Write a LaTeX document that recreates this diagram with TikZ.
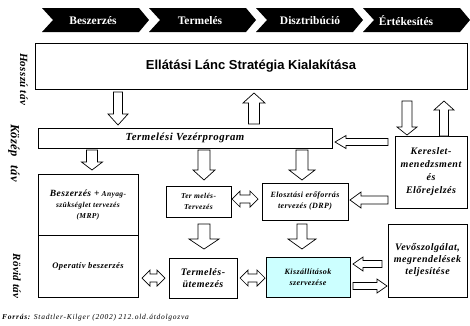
\documentclass[tikz,border=0pt]{standalone}
\usepackage{fontspec}
\setmainfont{Liberation Serif}
\newfontfamily\headsans{Liberation Sans}
\newfontfamily\tightserif[LetterSpace=3]{Liberation Serif}
\newfontfamily\wideserif[LetterSpace=5]{Liberation Serif}
\newfontfamily\widerserif[LetterSpace=10]{Liberation Serif}
\usetikzlibrary{calc}

\tikzset{
  box/.style={draw, line width=0.8pt, fill=white, inner sep=0pt, outer sep=0pt, align=center},
  % rectangle given by its corners x1,y1,x2,y2
  area/.style n args={4}{minimum width={(#3-#1)*1pt}, minimum height={(#4-#2)*1pt},
    at={({(#1+#3)/2},{(#2+#4)/2})}},
  blk/.style={draw, line width=0.7pt, fill=white, line join=miter},
  chevtext/.style={text=white, font=\bfseries\fontsize{11.5}{12}\selectfont, inner sep=0pt},
  bi/.style 2 args={font=\wideserif\bfseries\itshape\fontsize{#1}{#2}\selectfont},
  side/.style={font=\tightserif\bfseries\itshape\fontsize{#1}{#1}\selectfont, rotate=-90, inner sep=0pt},
  % block-arrow geometry: gaps at both ends, shaft/head half widths, head length
  ga/.store in=\baGapA, gb/.store in=\baGapB,
  sw/.store in=\baSw, hw/.store in=\baHw, hl/.store in=\baHl,
  ga=3pt, gb=3pt, sw=4.5pt, hw=10pt, hl=10pt,
}

% hollow block arrow from #2 to #3
\newcommand\barrow[3][]{%
  \begin{scope}[#1]
    \coordinate (bA) at ($(#2)!\baGapA!(#3)$);
    \coordinate (bB) at ($(#3)!\baGapB!(#2)$);
    \draw[blk] ($(bA)!\baSw!90:(bB)$)
      -- ($(bB)!\baHl!(bA)!\baSw!-90:(bA)$)
      -- ($(bB)!\baHl!(bA)!\baHw!-90:(bA)$)
      -- (bB)
      -- ($(bB)!\baHl!(bA)!\baHw!90:(bA)$)
      -- ($(bB)!\baHl!(bA)!\baSw!90:(bA)$)
      -- ($(bA)!\baSw!-90:(bB)$) -- cycle;
  \end{scope}}

% hollow double-headed block arrow between #2 and #3
\newcommand\dbarrow[3][]{%
  \begin{scope}[#1]
    \coordinate (bA) at ($(#2)!\baGapA!(#3)$);
    \coordinate (bB) at ($(#3)!\baGapB!(#2)$);
    \draw[blk] (bA)
      -- ($(bA)!\baHl!(bB)!\baHw!90:(bB)$)
      -- ($(bA)!\baHl!(bB)!\baSw!90:(bB)$)
      -- ($(bB)!\baHl!(bA)!\baSw!-90:(bA)$)
      -- ($(bB)!\baHl!(bA)!\baHw!-90:(bA)$)
      -- (bB)
      -- ($(bB)!\baHl!(bA)!\baHw!90:(bA)$)
      -- ($(bB)!\baHl!(bA)!\baSw!90:(bA)$)
      -- ($(bA)!\baHl!(bB)!\baSw!-90:(bB)$)
      -- ($(bA)!\baHl!(bB)!\baHw!-90:(bB)$) -- cycle;
  \end{scope}}

\begin{document}
\begin{tikzpicture}[x=1pt, y=-1pt]
\useasboundingbox (0,0) rectangle (470,325);

% process chevrons
\foreach \s/\t/\c [count=\i] in {42/Beszerzés/93, 149/Termelés/200, 256/Disztribúció/310, 363/Értékesítés/406}{
  \fill (\s,8) -- (\s+97,8) -- (\s+107,20) -- (\s+97,32) -- (\s,32) -- (\s+11,20) -- cycle;
  \node[chevtext] (chev\i) at (\c,20.5) {\t};
}

% horizon labels
\node[side=11] (lhossz) at (24,79) {Hosszú táv};
\node[side=12.5] (lkozep) at (14,153) {Közép\hspace{9pt}táv};
\node[side=11] (lrovid) at (17,276) {Rövid táv};

% planning boxes
\node[box, area={35}{43}{467}{89}, font=\headsans\bfseries\fontsize{13}{15}\selectfont] (strat) {Ellátási Lánc Stratégia Kialakítása};
\node[box, area={38}{128}{332}{148}, bi={10.8}{13}] (vez) {Termelési Vezérprogram};
\node[box, area={395}{136}{467}{208}, bi={10}{13}] (keres) {Kereslet-\\menedzsment\\és\\Előrejelzés};
\node[box, area={38}{174}{138}{235}, bi={7.5}{11}] (mrp) {{\fontsize{9.5}{11}\selectfont Beszerzés +} Anyag-\\szükséglet tervezés\\(MRP)};
\node[box, area={38}{235}{138}{297}, bi={8.5}{10}] (oper) {Operatív beszerzés};
\node[box, area={166}{186}{231}{217}, bi={7.5}{11}] (tervez) {Ter melés-\\Tervezés};
\node[box, area={262}{183}{348}{220}, bi={8}{11}] (eloszt) {Elosztási erőforrás\\tervezés (DRP)};
\node[box, area={169}{258}{237}{298}, bi={10}{12}] (utem) {Termelés-\\ütemezés};
\node[box, area={266}{257}{350}{297}, fill={rgb,255:red,204;green,255;blue,255}, bi={8}{11}] (kiszal) {Kiszállítások\\szervezése};
\node[box, area={388}{224}{467}{297}, bi={10}{12}] (vevo) {Vevőszolgálat,\\megrendelések\\teljesítése};

% columns and rows of the block arrows
\coordinate (c1) at (118,0);  \coordinate (c2) at (254,0);
\coordinate (c3) at (407,0);  \coordinate (c4) at (444,0);
\coordinate (c5) at (92,0);   \coordinate (c6) at (204,0);
\coordinate (c7) at (302,0);
\coordinate (r1) at (0,142);  \coordinate (r2) at (0,200);
\coordinate (r3) at (0,199);  \coordinate (r4) at (0,278);
\coordinate (r5) at (0,264);  \coordinate (r6) at (0,286);

% long-term <-> mid-term
\barrow[sw=4.5pt, hw=10pt, hl=11pt]{strat.south -| c1}{vez.north -| c1}
\barrow[ga=4pt, gb=4pt, sw=5.5pt, hw=11pt]{vez.north -| c2}{strat.south -| c2}
\barrow[ga=12pt, gb=1pt, sw=5pt, hl=8pt]{strat.south -| c3}{keres.north -| c3}
\barrow[ga=0pt, gb=12pt, hl=9pt]{keres.north -| c4}{strat.south -| c4}
\barrow[ga=7pt, gb=3pt, sw=3.5pt, hw=6.5pt, hl=11pt]{keres.west |- r1}{vez.east |- r1}

% mid-term
\barrow[ga=2pt, gb=4pt, sw=5.5pt, hw=10.5pt, hl=8pt]{vez.south -| c5}{mrp.north -| c5}
\barrow[ga=2pt, gb=6pt, sw=6pt, hw=11pt]{vez.south -| c6}{tervez.north -| c6}
\barrow[ga=2pt, gb=3pt, sw=6pt, hw=13pt]{vez.south -| c7}{eloszt.north -| c7}
\barrow[ga=7pt, gb=2pt, sw=4pt, hw=8pt, hl=11pt]{keres.west |- r2}{eloszt.east |- r2}
\dbarrow[ga=1pt, gb=4pt, sw=4pt, hw=8pt, hl=8pt]{tervez.east |- r3}{eloszt.west |- r3}

% mid-term -> short-term
\barrow[ga=7pt, gb=9pt, sw=6pt, hw=15pt]{tervez.south -| c6}{utem.north -| c6}
\barrow[ga=4pt, gb=8pt, sw=5pt, hw=14pt]{eloszt.south -| c7}{kiszal.north -| c7}

% short-term
\dbarrow[ga=4pt, gb=4pt, sw=4pt, hw=8pt, hl=8pt]{oper.east |- r4}{utem.west |- r4}
\dbarrow[ga=3pt, gb=1pt, sw=4pt, hw=8pt, hl=8pt]{utem.east |- r4}{kiszal.west |- r4}
\barrow[ga=6pt, gb=3pt, sw=3.5pt, hw=7pt]{vevo.west |- r5}{kiszal.east |- r5}
\barrow[ga=3pt, gb=1pt, sw=3.5pt, hw=7pt]{kiszal.east |- r6}{vevo.west |- r6}

% source line
\node[anchor=west, inner sep=0pt, font=\widerserif\itshape\fontsize{7.5}{8}\selectfont] (src) at (2,318)
  {\textbf{Forrás:} Stadtler-Kilger (2002) 212.old.átdolgozva};
\end{tikzpicture}
\end{document}
